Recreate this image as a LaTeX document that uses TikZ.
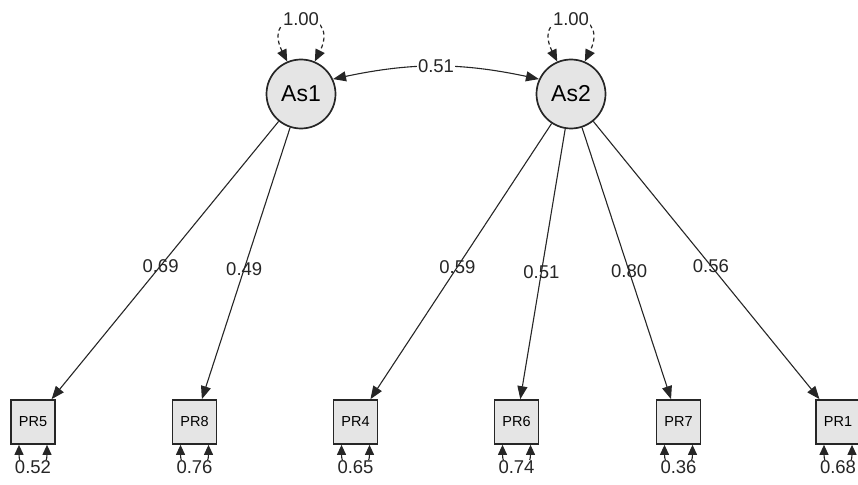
\documentclass[tikz,border=0pt]{standalone}
\usepackage{fontspec}
\setmainfont{Liberation Sans}
\usetikzlibrary{arrows.meta}
\begin{document}
\begin{tikzpicture}[x=1pt,y=-1pt,
  latent/.style={circle,draw=black!85,line width=1.7pt,fill=black!10,minimum size=69pt,inner sep=0pt,font=\fontsize{23}{26}\selectfont},
  manifest/.style={rectangle,draw=black!85,line width=1.7pt,fill=black!10,minimum size=44pt,inner sep=0pt,font=\fontsize{14.5}{16}\selectfont},
  load/.style={-{Triangle[length=13pt,width=10pt]},line width=1.1pt,draw=black!85},
  cov/.style={{Triangle[length=13pt,width=10pt]}-{Triangle[length=13pt,width=10pt]},line width=1.1pt,draw=black!85},
  varloop/.style={{Triangle[length=12pt,width=10pt]}-{Triangle[length=12pt,width=10pt]},line width=1.2pt,dash pattern=on 4pt off 3pt,draw=black!85},
  resid/.style={{Triangle[length=10pt,width=9pt]}-{Triangle[length=10pt,width=9pt]},line width=1.1pt,draw=black!85},
  lab/.style={font=\fontsize{18.5}{21}\selectfont,inner sep=1pt,text=black!85},
  labw/.style={lab,fill=white}
]
\useasboundingbox (0,0) rectangle (858,484);

\node[latent] (As1) at (301,94) {As1};
\node[latent] (As2) at (571,94) {As2};

\node[manifest] (PR5) at (33,422) {PR5};
\node[manifest] (PR8) at (194.5,422) {PR8};
\node[manifest] (PR4) at (355.5,422) {PR4};
\node[manifest] (PR6) at (516.5,422) {PR6};
\node[manifest] (PR7) at (678.5,422) {PR7};
\node[manifest] (PR1) at (838,422) {PR1};

% loadings
\draw[load] (As1) -- (PR5) node[lab,pos=0.52] {0.69};
\draw[load] (As1) -- (PR8) node[lab,pos=0.52] {0.49};
\draw[load] (As2) -- (PR4) node[lab,pos=0.52] {0.59};
\draw[load] (As2) -- (PR6) node[lab,pos=0.53] {0.51};
\draw[load] (As2) -- (PR7) node[lab,pos=0.53] {0.80};
\draw[load] (As2) -- (PR1) node[lab,pos=0.52] {0.56};

% covariance
\draw[cov] (As1.25) to[bend left=12] node[labw,pos=0.5] {0.51} (As2.155);

% latent variances
\draw[varloop] (As1.113) .. controls +(-28,-56) and +(28,-56) .. node[labw,pos=0.5] {1.00} (As1.67);
\draw[varloop] (As2.113) .. controls +(-28,-56) and +(28,-56) .. node[labw,pos=0.5] {1.00} (As2.67);

% residual variances
\foreach \n/\v in {PR5/0.52,PR8/0.76,PR4/0.65,PR6/0.74,PR7/0.36,PR1/0.68}{
  \draw[resid] ([xshift=-14pt]\n.south) .. controls +(0,30) and +(0,30) .. node[labw,pos=0.5] {\v} ([xshift=14pt]\n.south);
}
\end{tikzpicture}
\end{document}
